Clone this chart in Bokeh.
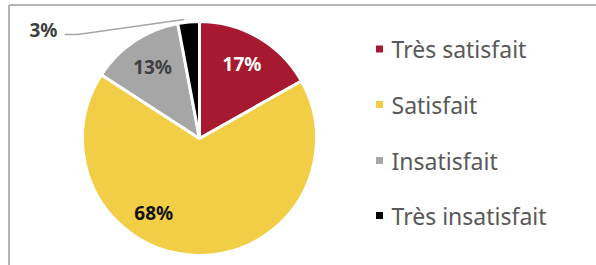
import numpy as np
from bokeh.plotting import figure
from bokeh.models import Range1d
from bokeh.core.properties import value
from bokeh.embed import file_html
from bokeh.resources import INLINE

# ---- data ----
categories = ["Très satisfait", "Satisfait", "Insatisfait", "Très insatisfait"]
values = [17, 68, 13, 3]
pct_labels = ["17%", "68%", "13%", "3%"]
colors = ["#A6192E", "#F2CD46", "#A6A6A6", "#000000"]
label_colors = ["#FFFFFF", "#111111", "#404040", "#404040"]

# ---- layout (pixel space: x = screen x, y = 265 - screen y) ----
W, H = 596, 265
CX, CY, R = 199, 127, 117
FONT = "Noto Sans"

p = figure(width=W, height=H, x_range=Range1d(0, W), y_range=Range1d(0, H),
           output_backend="svg", toolbar_location=None, min_border=0,
           x_axis_type=None, y_axis_type=None)
p.grid.visible = False
p.outline_line_color = None
p.background_fill_color = "white"

# border (left and top only, chart is cropped)
p.line([8.5, 8.5], [0, 260.5], line_color="#B4B4B4", line_width=2)
p.line([8.5, 596], [260.5, 260.5], line_color="#B4B4B4", line_width=2)

vals = np.array(values, dtype=float)
frac = vals / vals.sum()
cum = np.concatenate([[0], np.cumsum(frac)])
start = np.pi / 2 - 2 * np.pi * cum[:-1]
end = np.pi / 2 - 2 * np.pi * cum[1:]

p.wedge(x=CX, y=CY, radius=R, start_angle=start, end_angle=end, direction="clock",
        fill_color=colors, line_color="white", line_width=3)

# percentage labels
mid = (start + end) / 2
lab_r = [0.72 * R, 0.76 * R, 0.72 * R, None]
lab_ang = [mid[0], np.deg2rad(-121), mid[2], None]
lx, ly, lt, lc = [], [], [], []
for i in range(3):
    lx.append(CX + lab_r[i] * np.cos(lab_ang[i]))
    ly.append(CY + 1.5 + lab_r[i] * np.sin(lab_ang[i]))
    lt.append(pct_labels[i])
    lc.append(label_colors[i])
p.text(x=lx, y=ly, text=lt, text_color=lc, text_font=value(FONT), text_font_style="bold",
       text_font_size="19px", text_align="center", text_baseline="middle")

# outside label for the small slice, with leader line
edge_ang = mid[3] + np.deg2rad(2)
ex, ey = CX + (R + 3) * np.cos(edge_ang), CY + (R + 3) * np.sin(edge_ang)
p.line([64, 77, ex], [231, 231, ey], line_color="#A6A6A6", line_width=1.5)
p.text(x=[43], y=[236], text=[pct_labels[3]], text_color=label_colors[3],
       text_font=value(FONT), text_font_style="bold", text_font_size="19px",
       text_align="center", text_baseline="middle")

# legend
leg_y = [265 - 48.5, 265 - 104, 265 - 160, 265 - 215]
p.scatter(x=[379] * 4, y=leg_y, marker="square", size=7, fill_color=colors, line_color=None)
p.text(x=[391] * 4, y=leg_y, text=categories, text_color="#595959", text_font=value(FONT),
       text_font_size="23px", text_align="left", text_baseline="middle")

open("out.html", "w").write(file_html(p, INLINE))
